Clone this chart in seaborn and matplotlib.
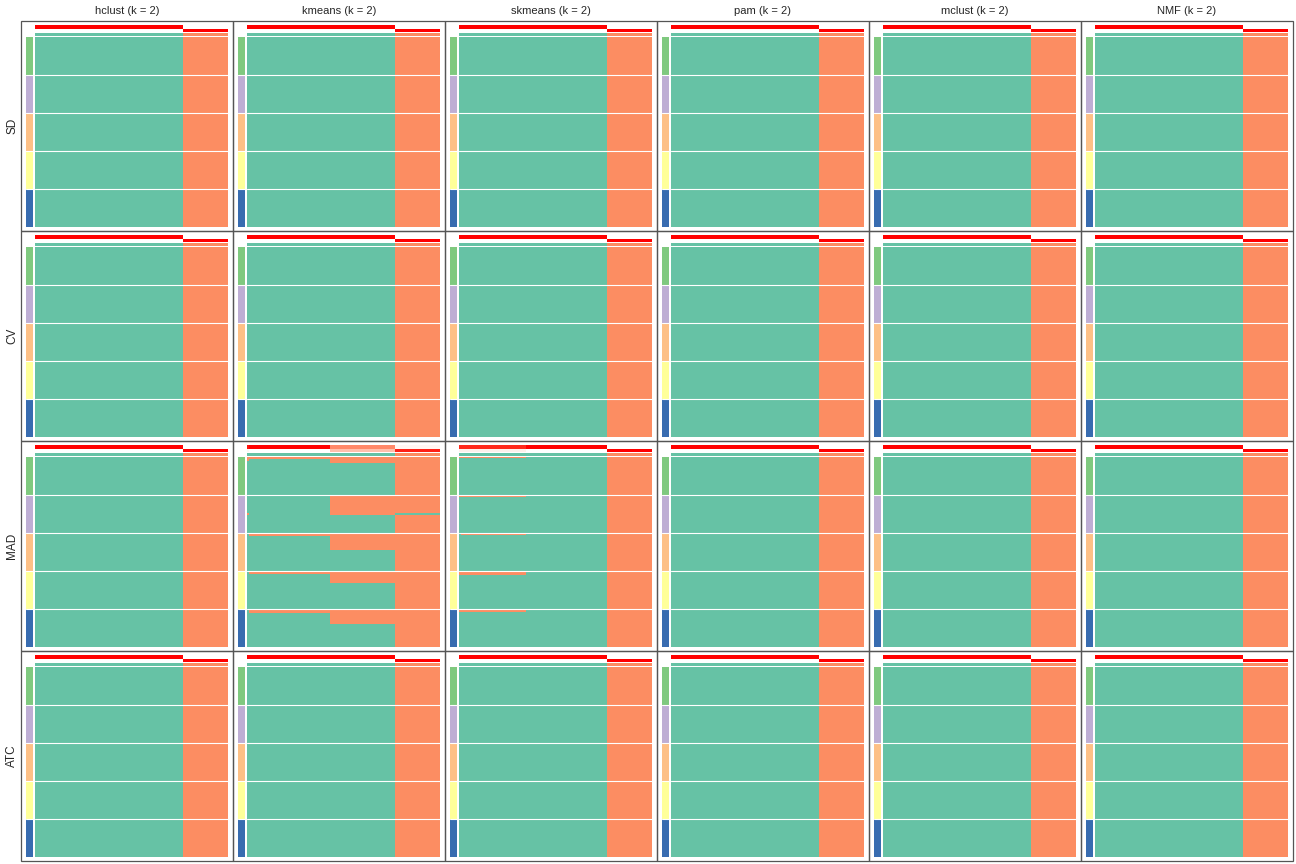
import numpy as np
import matplotlib
matplotlib.use("Agg")
import matplotlib.pyplot as plt
from matplotlib.colors import ListedColormap, LinearSegmentedColormap
from matplotlib.patches import Rectangle
import seaborn as sns

sns.set_theme(style="white")
plt.rcParams["font.family"] = ["Liberation Sans", "DejaVu Sans"]

# ---------------- data ----------------
top_methods = ["SD", "CV", "MAD", "ATC"]
part_methods = ["hclust", "kmeans", "skmeans", "pam", "mclust", "NMF"]
k_value = 2
topn_colors = ["#7FC97F", "#BEAED4", "#FDC086", "#FFFF99", "#386CB0"]
class_colors = ["#66C2A5", "#FC8D62"]
prob_colors = ["#FFFFFF", "#FFCFBE", "#FF9E81", "#FF6746", "#FF0000"]
rows_per_group = 40

# standard panel: samples split into column segments
std_segments = [66, 20]
std_prob1 = [1.0, 0.0]
std_prob2 = [0.0, 1.0]
std_class = [1, 2]
std_rows = [[(40, [1, 2])] for _ in range(5)]

# kmeans / MAD
km_mad_segments = [1, 36, 29, 20]
km_mad_prob1 = [0.95, 1.0, 0.6, 0.05]
km_mad_prob2 = [0.05, 0.0, 0.33, 0.92]
km_mad_class = [1, 1, 1, 2]
km_mad_rows = [
    [(2, [2, 2, 2, 2]), (2, [2, 1, 2, 2]), (2, [1, 1, 2, 2]), (34, [1, 1, 1, 2])],
    [(19, [1, 1, 2, 2]), (2, [2, 1, 2, 1]), (19, [1, 1, 1, 2])],
    [(3, [1, 2, 2, 2]), (15, [1, 1, 2, 2]), (22, [1, 1, 1, 2])],
    [(3, [1, 2, 2, 2]), (10, [1, 1, 2, 2]), (27, [1, 1, 1, 2])],
    [(4, [1, 2, 2, 2]), (12, [1, 1, 2, 2]), (24, [1, 1, 1, 2])],
]

# skmeans / MAD
skm_mad_segments = [1, 29, 36, 20]
skm_mad_prob1 = [0.9, 0.9, 1.0, 0.0]
skm_mad_prob2 = [0.08, 0.08, 0.0, 1.0]
skm_mad_class = [1, 1, 1, 2]
skm_mad_rows = [
    [(1, [2, 2, 1, 2]), (39, [1, 1, 1, 2])],
    [(2, [2, 2, 1, 2]), (38, [1, 1, 1, 2])],
    [(2, [1, 2, 1, 2]), (38, [1, 1, 1, 2])],
    [(4, [2, 2, 1, 2]), (36, [1, 1, 1, 2])],
    [(3, [2, 2, 1, 2]), (37, [1, 1, 1, 2])],
]

special = {
    ("MAD", "kmeans"): (km_mad_segments, km_mad_prob1, km_mad_prob2, km_mad_class, km_mad_rows),
    ("MAD", "skmeans"): (skm_mad_segments, skm_mad_prob1, skm_mad_prob2, skm_mad_class, skm_mad_rows),
}


def expand(segments, values):
    return np.repeat(np.asarray(values, dtype=float), segments)


def build(spec):
    segments, p1, p2, cls, rows = spec
    mat = []
    for group in rows:
        for n, vals in group:
            for _ in range(n):
                mat.append(expand(segments, vals))
    mat = np.array(mat)
    prob1 = expand(segments, p1)[None, :]
    prob2 = expand(segments, p2)[None, :]
    cl = expand(segments, cls)[None, :]
    return mat, prob1, prob2, cl


# ---------------- layout ----------------
W, H = 1296, 864
fig = plt.figure(figsize=(W / 100, H / 100), dpi=100)


def rect(x, y, w, h):
    return [x / W, 1 - (y + h) / H, w / W, h / H]


cmap_class = ListedColormap(class_colors)
cmap_topn = ListedColormap(topn_colors)
cmap_prob = LinearSegmentedColormap.from_list("wr", prob_colors)

px0, py0, pw, ph = 21, 20.5, 212, 210.1
group_index = np.repeat(np.arange(len(topn_colors)), rows_per_group)[:, None]


def strip(data, box, cmap, vmin, vmax):
    ax = fig.add_axes(rect(*box))
    sns.heatmap(data, ax=ax, cmap=cmap, vmin=vmin, vmax=vmax, cbar=False,
                xticklabels=False, yticklabels=False, linewidths=0)
    ax.axis("off")
    return ax


for r, tm in enumerate(top_methods):
    for c, pm in enumerate(part_methods):
        spec = special.get((tm, pm), (std_segments, std_prob1, std_prob2, std_class, std_rows))
        mat, prob1, prob2, cl = build(spec)
        x0 = px0 + c * pw
        y0 = py0 + r * ph

        # top annotation: membership probabilities of class 1 and class 2
        strip(prob1, (x0 + 14, y0 + 4.2, 193, 4.1), cmap_prob, 0, 1)
        strip(prob2, (x0 + 14, y0 + 8.3, 193, 3.3), cmap_prob, 0, 1)

        # class annotation
        strip(cl, (x0 + 14, y0 + 12.4, 193, 2.8), cmap_class, 1, 2)

        # main matrix
        ax_m = strip(mat, (x0 + 14, y0 + 16.3, 193, 189.7), cmap_class, 1, 2)
        for g in range(1, len(topn_colors)):
            ax_m.axhline(g * rows_per_group, color="white", lw=0.8)

        # left top-n bar
        ax_b = strip(group_index, (x0 + 4.8, y0 + 16.3, 7.2, 189.7), cmap_topn,
                     -0.5, len(topn_colors) - 0.5)
        for g in range(1, len(topn_colors)):
            ax_b.axhline(g * rows_per_group, color="white", lw=0.8)

        # panel border
        fig.patches.append(Rectangle((x0 / W, 1 - (y0 + ph) / H), pw / W, ph / H,
                                     transform=fig.transFigure, fill=False,
                                     edgecolor="#555555", lw=0.9, zorder=10))

        if r == 0:
            fig.text((x0 + pw / 2) / W, 1 - 11.5 / H, f"{pm} (k = {k_value})",
                     ha="center", va="center", fontsize=8)
    fig.text(12 / W, 1 - (py0 + r * ph + ph / 2) / H, tm, rotation=90,
             ha="center", va="center", fontsize=8.5)

fig.savefig("out.png", dpi=100)
